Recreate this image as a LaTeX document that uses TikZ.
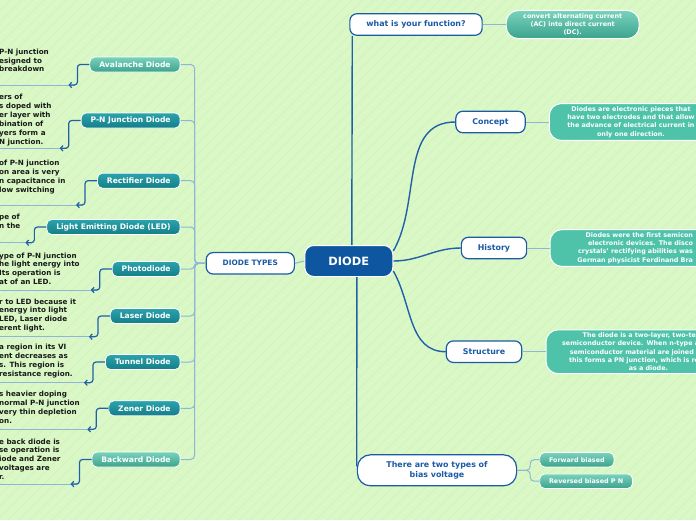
\documentclass[tikz,border=0pt]{standalone}
\usepackage{fontspec}
\setmainfont{DejaVu Sans}
\usepackage{xcolor}
\usepackage{tikz}
\usetikzlibrary{arrows.meta,positioning}
\definecolor{bggreen}{HTML}{DAF8C6}
\definecolor{bgstripe}{HTML}{D1F0BD}
\definecolor{rootblue}{HTML}{0E56A0}
\definecolor{edgeblue}{HTML}{1B5AA6}
\definecolor{linkblue}{HTML}{2160A8}
\definecolor{paleblue}{HTML}{8FB5D7}
\definecolor{tealtop}{HTML}{2BA3AC}
\definecolor{tealbot}{HTML}{147E88}
\definecolor{mintop}{HTML}{79D2BD}
\definecolor{minbot}{HTML}{3CA38D}
\definecolor{descgreen}{HTML}{4EC3AA}
\newcommand{\setfs}[2]{\fontsize{#1}{#2}\selectfont\bfseries}

\begin{document}
\begin{tikzpicture}[x=1pt,y=-1pt,font=\setfs{7.9}{9.7},
  root/.style={rounded corners=9pt,draw=white,line width=1pt,fill=rootblue,text=white,
               font=\setfs{11.4}{13},minimum width=88pt,minimum height=31pt},
  topic/.style={rounded corners=7pt,draw=edgeblue,line width=1.2pt,fill=white,text=edgeblue,
                inner xsep=16.5pt,minimum height=21.5pt},
  typebox/.style={rounded corners=5pt,draw=white,line width=0.8pt,top color=tealtop,
                  bottom color=tealbot,text=white,font=\setfs{7.6}{9},inner xsep=9.5pt,
                  minimum height=15pt,anchor=east},
  typeboxlt/.style={typebox,top color=mintop,bottom color=minbot},
  desc/.style={rounded corners=12pt,draw=white,line width=1pt,fill=descgreen,text=white,
               font=\setfs{6.4}{8.2},inner xsep=17pt,inner ysep=3pt},
  leaf/.style={rounded corners=5pt,draw=white,line width=0.8pt,top color=mintop,
               bottom color=minbot,text=white,font=\setfs{6.4}{8},inner xsep=9.3pt,
               minimum height=14.5pt,anchor=west},
  note/.style={anchor=north west,inner sep=0pt,align=left,text=black!90,font=\setfs{7.2}{8.9}},
  link/.style={draw=linkblue,line width=1.4pt},
  soft/.style={draw=paleblue,line width=1pt},
  hook/.style={draw=linkblue,line width=1.2pt,rounded corners=3pt,
               -{Straight Barb[length=2.5pt,width=5.5pt]}},
  uline/.style={draw=paleblue,line width=1pt}]
\useasboundingbox (0,0) rectangle (696,520);
\fill[bggreen] (0,0) rectangle (696,520);
\foreach \i in {-520,-509,...,696}
  \draw[bgstripe,line width=0.4pt] (\i,520) -- ++(520pt,520pt);

\node[root] (diode) at (348.8,261) {DIODE};
\node[topic,font=\setfs{7.4}{9}] (types) at (250.3,263.3) {DIODE TYPES};
\node[topic] (what) at (416,24.5) {what is your function?};
\node[topic] (concept) at (490.5,122) {Concept};
\node[topic] (history) at (494,248) {History};
\node[topic] (structure) at (484,351.7) {Structure};
\node[topic,rounded corners=13pt,inner xsep=29pt,minimum height=31pt,align=center]
     (bias) at (437,470.3) {There are two types of\\bias voltage};

\node[desc,top color=mintop,bottom color=minbot,align=center,right=23pt of what] (convert)
     {convert alternating current\\(AC) into direct current\\(DC).};
\node[desc,align=center,inner xsep=18pt,right=23pt of concept] (conceptdesc)
     {Diodes are electronic pieces that\\have two electrodes and that allow\\
      the advance of electrical current in\\only one direction.};
\node[desc,align=right,text width=126pt,right=22.3pt of history] (historydesc)
     {Diodes were the first semicon\\electronic devices. The disco\\
      crystals' rectifying abilities was\\German physicist Ferdinand Bra};
\node[desc,align=right,inner xsep=11pt,text width=142pt,right=23.3pt of structure] (structuredesc)
     {The diode is a two-layer, two-ter\\semiconductor device. When n-type a\\
      semiconductor material are joined t\\this forms a PN junction, which is re\\
      as a diode.\rule{31pt}{0pt}};
\node[leaf] (forward) at (539.3,459.7) {Forward biased};
\node[leaf] (reversed) at (539.3,481.2) {Reversed biased P N};

\node[typeboxlt] (aval) at (180.5,64.5) {Avalanche Diode};
\node[typebox] (pnj) at (180.5,120.5) {P-N Junction Diode};
\node[typebox] (rect) at (180.5,180.7) {Rectifier Diode};
\node[typebox] (led) at (180.5,227) {Light Emitting Diode (LED)};
\node[typebox] (photo) at (180.5,269) {Photodiode};
\node[typebox] (laser) at (180.5,316) {Laser Diode};
\node[typebox] (tunnel) at (180.5,362) {Tunnel Diode};
\node[typebox] (zener) at (180.5,408.3) {Zener Diode};
\node[typeboxlt] (back) at (180.5,459.5) {Backward Diode};

\node[note] (avaltxt) at (-1,48.5) {P-N junction\\esigned to\\breakdown};
\node[note] (pnjtxt) at (-1,94) {ers of\\s doped with\\er layer with\\bination of\\yers form a\\N junction.};
\node[note] (recttxt) at (-1,160) {of P-N junction\\on area is very\\n capacitance in\\low switching};
\node[note] (ledtxt) at (-1,214) {pe of\\n the};
\node[note] (phototxt) at (-1,252.4) {ype of P-N junction\\he light energy into\\Its operation is\\at of an LED.};
\node[note] (lasertxt) at (-1,298.4) {r to LED because it\\energy into light\\LED, Laser diode\\erent light.};
\node[note] (tunneltxt) at (-1,344) {a region in its VI\\ent decreases as\\s. This region is\\resistance region.};
\node[note] (zenertxt) at (-1,390.7) {s heavier doping\\normal P-N junction\\very thin depletion\\on.};
\node[note] (backtxt) at (-1,438.4) {e back diode is\\se operation is\\iode and Zener\\voltages are\\r.};

\coordinate (avaltip) at ([xshift=-21pt]aval.west |- 0,85);
\coordinate (pnjtip) at ([xshift=-21pt]pnj.west |- 0,148.3);
\coordinate (recttip) at ([xshift=-21pt]rect.west |- 0,205);
\coordinate (ledtip) at ([xshift=-21pt]led.west |- 0,242.7);
\coordinate (phototip) at ([xshift=-21pt]photo.west |- 0,290);
\coordinate (lasertip) at ([xshift=-21pt]laser.west |- 0,336.7);
\coordinate (tunneltip) at ([xshift=-21pt]tunnel.west |- 0,382.7);
\coordinate (zenertip) at ([xshift=-21pt]zener.west |- 0,429.3);
\coordinate (backtip) at ([xshift=-21pt]back.west |- 0,484);

\draw[link] ([xshift=3pt]diode.north) -- ([xshift=3pt]what.south west);
\draw[link] ([xshift=8pt]diode.south) -- ([yshift=4pt]bias.west);
\draw[link] ([yshift=10pt]diode.east) to[out=60,in=180] (concept.west);
\draw[link] (diode.east) to[out=0,in=180] (history.west);
\draw[link] ([yshift=-10pt]diode.east) to[out=-60,in=180] (structure.west);
\draw[soft] (diode.west) -- (types.east);
\draw[soft] (what.east) -- (convert.west);
\draw[soft] (concept.east) -- (conceptdesc.west);
\draw[soft] (history.east) -- (historydesc.west);
\draw[soft] (structure.east) -- (structuredesc.west);
\draw[soft,rounded corners=4pt] (bias.east) -- ++(13pt,0) |- (forward.west);
\draw[soft,rounded corners=4pt] (bias.east) -- ++(13pt,0) |- (reversed.west);

\foreach \t in {aval,pnj,rect,led,photo,laser,tunnel,zener,back} {
  \draw[soft,rounded corners=4pt] (types.west) -- ++(-11pt,0) |- (\t.east);
  \draw[uline] (\t txt.south west |- \t tip) -- ([xshift=7pt]\t tip);
  \draw[hook] (\t.west) -- ++(-12pt,0) |- (\t tip);
}
\end{tikzpicture}
\end{document}
